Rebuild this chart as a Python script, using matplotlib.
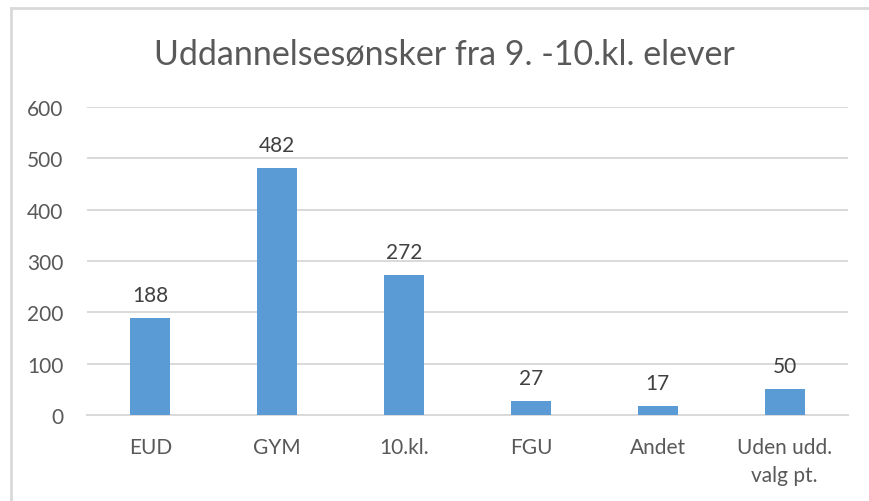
import matplotlib
matplotlib.use("Agg")
import matplotlib.pyplot as plt
from matplotlib.lines import Line2D

categories = ["EUD", "GYM", "10.kl.", "FGU", "Andet", "Uden udd.\nvalg pt."]
values = [188, 482, 272, 27, 17, 50]
yticks = [0, 100, 200, 300, 400, 500, 600]
title = "Uddannelsesønsker fra 9. -10.kl. elever"

plt.rcParams['font.family'] = ['Lato', 'DejaVu Sans']

W, H = 870, 502
fig = plt.figure(figsize=(W / 100, H / 100), dpi=100)
fig.patch.set_facecolor("white")

ax = fig.add_axes([87 / W, 1 - 416 / H, (848 - 87) / W, (416 - 108) / H])
x = list(range(len(categories)))
bars = ax.bar(x, values, width=0.315, color="#5B9BD5", zorder=3)
ax.set_xlim(-0.5, len(categories) - 0.5)
ax.set_ylim(0, 600)
ax.set_yticks(yticks)
ax.set_yticklabels([str(t) for t in yticks])
ax.set_xticks(x)
ax.set_xticklabels(categories, linespacing=1.5)
ax.grid(axis="y", color="#D9D9D9", linewidth=1.4, zorder=0)
for s in ["top", "right", "left"]:
    ax.spines[s].set_visible(False)
ax.spines["bottom"].set_color("#D9D9D9")
ax.spines["bottom"].set_linewidth(1.4)
ax.tick_params(axis="both", length=0, labelsize=15, colors="#595959")
ax.tick_params(axis="y", pad=17)
ax.tick_params(axis="x", pad=16)

for xi, v in zip(x, values):
    ax.annotate(str(v), (xi, v), xytext=(0, 13), textcoords="offset pixels",
                ha="center", va="bottom", fontsize=15, color="#404040")

fig.text(444 / W, 1 - 55 / H, title, ha="center", va="center",
         fontsize=24.5, color="#595959")

# chart border (top and left visible)
fig.add_artist(Line2D([11 / W, 1], [1 - 9 / H, 1 - 9 / H], color="#D9D9D9", linewidth=2, transform=fig.transFigure))
fig.add_artist(Line2D([11 / W, 11 / W], [0, 1 - 9 / H], color="#D9D9D9", linewidth=2, transform=fig.transFigure))

fig.savefig("out.png", dpi=100)
